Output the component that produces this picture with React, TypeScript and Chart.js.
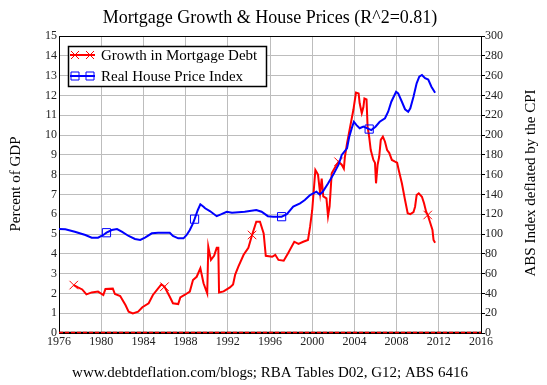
import React, { useEffect, useRef } from "react";
import { Chart, registerables } from "chart.js";

Chart.register(...registerables);

const TITLE = "Mortgage Growth & House Prices (R^2=0.81)";
const FOOTER = "www.debtdeflation.com/blogs; RBA Tables D02, G12; ABS 6416";
const LEFT_TITLE = "Percent of GDP";
const RIGHT_TITLE = "ABS Index deflated by the CPI";
const SERIES_RED = "Growth in Mortgage Debt";
const SERIES_BLUE = "Real House Price Index";

const redYears = [
  1977.4, 1977.8, 1978.2, 1978.6, 1979.1, 1979.7, 1980.2, 1980.4, 1981.1, 1981.3,
  1981.8, 1982.3, 1982.6, 1983.0, 1983.5, 1983.9, 1984.5, 1984.9, 1985.7, 1986.0,
  1986.5, 1986.8, 1987.3, 1987.5, 1987.9, 1988.4, 1988.7, 1989.05, 1989.4, 1989.7,
  1990.05, 1990.15, 1990.4, 1990.7, 1990.95, 1991.1, 1991.17, 1991.6, 1992.2, 1992.5,
  1992.7, 1993.0, 1993.5, 1993.95, 1994.3, 1994.7, 1995.05, 1995.4, 1995.6, 1996.2,
  1996.5, 1996.8, 1997.3, 1997.7, 1998.3, 1998.7, 1999.15, 1999.6, 1999.8, 2000.0,
  2000.3, 2000.55, 2000.75, 2000.9, 2001.05, 2001.35, 2001.5, 2001.65, 2001.85, 2002.2,
  2002.5, 2002.8, 2003.0, 2003.1, 2003.3, 2003.6, 2003.9, 2004.15, 2004.4, 2004.5,
  2004.7, 2004.85, 2004.95, 2005.15, 2005.25, 2005.4, 2005.55, 2005.8, 2005.95, 2006.05,
  2006.2, 2006.35, 2006.5, 2006.7, 2006.9, 2007.1, 2007.3, 2007.55, 2007.85, 2008.05,
  2008.2, 2008.5, 2008.8, 2009.05, 2009.3, 2009.6, 2009.75, 2009.9, 2010.1, 2010.4,
  2010.6, 2010.8, 2010.95, 2011.2, 2011.4, 2011.5, 2011.65,
];
const redValues = [
  2.42, 2.3, 2.2, 1.95, 2.05, 2.09, 1.92, 2.22, 2.24, 1.97,
  1.87, 1.41, 1.08, 0.99, 1.08, 1.3, 1.5, 1.92, 2.46, 2.34,
  1.83, 1.5, 1.46, 1.8, 1.92, 2.09, 2.68, 2.84, 3.27, 2.51,
  2.0, 4.36, 3.69, 3.9, 4.3, 4.3, 2.05, 2.1, 2.3, 2.45,
  2.95, 3.35, 3.95, 4.3, 4.95, 5.62, 5.62, 5.03, 3.9, 3.85,
  3.95, 3.69, 3.65, 4.02, 4.61, 4.5, 4.61, 4.7, 5.37, 6.2,
  8.23, 8.0, 7.05, 7.8, 6.9, 6.8, 5.9, 6.4, 8.07, 8.4,
  8.65, 8.5, 8.3, 8.9, 9.58, 10.42, 11.26, 12.14, 12.1, 11.6,
  11.1, 11.4, 11.85, 11.8, 10.42, 9.9, 9.24, 8.74, 8.6, 7.56,
  8.5, 8.9, 9.75, 9.92, 9.66, 9.24, 9.1, 8.74, 8.65, 8.6,
  8.23, 7.56, 6.72, 6.05, 6.0, 6.1, 6.38, 6.97, 7.05, 6.88,
  6.55, 6.13, 5.96, 5.54, 5.2, 4.7, 4.56,
];
const redMarkerYears = [1977.4, 1986.0, 1994.3, 2002.5, 2010.95];

const blueYears = [
  1976.0, 1976.6, 1977.5, 1978.5, 1979.1, 1979.7, 1980.2, 1980.5, 1981.0, 1981.5,
  1981.95, 1982.6, 1983.2, 1983.7, 1984.15, 1984.8, 1985.4, 1986.5, 1986.8, 1987.3,
  1987.8, 1988.1, 1988.4, 1988.7, 1988.85, 1989.15, 1989.4, 1989.7, 1989.85, 1990.3,
  1990.95, 1991.4, 1991.9, 1992.4, 1993.6, 1994.7, 1995.2, 1995.8, 1996.3, 1997.1,
  1997.6, 1998.2, 1998.85, 1999.3, 1999.8, 2000.4, 2000.7, 2001.0, 2001.5, 2002.0,
  2002.5, 2002.8, 2003.3, 2003.5, 2003.75, 2003.95, 2004.2, 2004.5, 2004.85, 2005.4,
  2005.6, 2006.0, 2006.4, 2006.9, 2007.2, 2007.5, 2007.95, 2008.15, 2008.5, 2008.8,
  2009.1, 2009.3, 2009.6, 2009.9, 2010.15, 2010.4, 2010.7, 2011.0, 2011.3, 2011.65,
];
const blueValues = [
  105, 104.7, 102.3, 99, 96.3, 96.3, 99, 101.3, 104, 105,
  102.3, 98, 95, 94, 96.3, 100.7, 101.3, 101.3, 98, 95.6,
  95.6, 99, 104, 110.8, 115, 124, 130, 127.6, 126, 123.2,
  118, 120, 122.5, 121.5, 122.5, 124.2, 122.5, 118, 117.5, 117.5,
  120, 127.6, 131, 134.3, 139.4, 142.7, 140, 142.7, 151, 160,
  170, 179.8, 186.6, 197.7, 206.8, 213.4, 210, 206.8, 208.6, 206,
  205, 208.4, 213.4, 216.9, 223.5, 233.6, 243.7, 242, 233.6, 226,
  223.5, 227, 238.7, 252.2, 259, 260.6, 257.3, 256, 248.8, 242.7,
];
const blueMarkerYears = [1980.5, 1988.85, 1997.1, 2005.4];

const X_MIN = 1976, X_MAX = 2016, X_STEP = 4;
const LEFT_MAX = 15, LEFT_STEP = 1;
const RIGHT_MAX = 300, RIGHT_STEP = 20;

const RED = "#ff0000";
const BLUE = "#0000ff";
const SERIF = '"Liberation Serif", "DejaVu Serif", serif';

const overlayPlugin = {
  id: "overlay",
  afterDraw(chart: any) {
    const ctx = chart.ctx as CanvasRenderingContext2D;
    const a = chart.chartArea;
    ctx.save();
    // top frame line
    ctx.strokeStyle = "#000";
    ctx.lineWidth = 1;
    ctx.beginPath();
    ctx.moveTo(a.left, a.top + 0.5);
    ctx.lineTo(a.right, a.top + 0.5);
    ctx.stroke();

    // bottom axis: black line with red dashes on top
    const yb = Math.round(a.bottom) - 0.5;
    ctx.beginPath();
    ctx.strokeStyle = "#000";
    ctx.lineWidth = 1.5;
    ctx.moveTo(a.left, yb);
    ctx.lineTo(a.right, yb);
    ctx.stroke();
    ctx.beginPath();
    ctx.setLineDash([4, 2]);
    ctx.strokeStyle = RED;
    ctx.lineWidth = 1.5;
    ctx.moveTo(a.left, yb);
    ctx.lineTo(a.right, yb);
    ctx.stroke();
    ctx.setLineDash([]);

    ctx.fillStyle = "#000";
    ctx.textAlign = "center";
    ctx.textBaseline = "middle";
    ctx.font = `18px ${SERIF}`;
    ctx.fillText(TITLE, 270, 18);
    ctx.font = `15px ${SERIF}`;
    ctx.fillText(FOOTER, 270, 373);

    ctx.save();
    ctx.translate(16, 184);
    ctx.rotate(-Math.PI / 2);
    ctx.fillText(LEFT_TITLE, 0, 0);
    ctx.restore();
    ctx.save();
    ctx.translate(531, 183);
    ctx.rotate(-Math.PI / 2);
    ctx.fillText(RIGHT_TITLE, 0, 0);
    ctx.restore();

    // legend
    const bx = 68, by = 46, bw = 198, bh = 40;
    ctx.fillStyle = "#fff";
    ctx.fillRect(bx, by, bw, bh);
    ctx.strokeStyle = "#000";
    ctx.lineWidth = 1.5;
    ctx.strokeRect(bx + 0.5, by + 0.5, bw, bh);

    const rows = [
      { y: 55, color: RED, label: SERIES_RED, kind: "cross" },
      { y: 76, color: BLUE, label: SERIES_BLUE, kind: "square" },
    ];
    rows.forEach((r) => {
      ctx.strokeStyle = r.color;
      ctx.lineWidth = 2;
      ctx.beginPath();
      ctx.moveTo(70, r.y);
      ctx.lineTo(95, r.y);
      ctx.stroke();
      ctx.lineWidth = 1;
      [75, 90].forEach((mx) => {
        ctx.beginPath();
        if (r.kind === "cross") {
          ctx.moveTo(mx - 4, r.y - 4);
          ctx.lineTo(mx + 4, r.y + 4);
          ctx.moveTo(mx - 4, r.y + 4);
          ctx.lineTo(mx + 4, r.y - 4);
        } else {
          ctx.rect(mx - 4, r.y - 4, 8, 8);
        }
        ctx.stroke();
      });
      ctx.fillStyle = "#000";
      ctx.textAlign = "left";
      ctx.textBaseline = "middle";
      ctx.font = `15px ${SERIF}`;
      ctx.fillText(r.label, 101, r.y + 1);
    });
    ctx.restore();
  },
};

export default function App() {
  const ref = useRef<HTMLCanvasElement | null>(null);

  useEffect(() => {
    document.body.style.margin = "0";
    const canvas = ref.current;
    if (!canvas) return;

    const blueData = blueYears.map((x, i) => ({ x, y: blueValues[i] }));
    const redData = redYears.map((x, i) => ({ x, y: redValues[i] }));

    const tickFont = { family: SERIF, size: 12 };

    const chart = new Chart(canvas, {
      type: "line",
      data: {
        datasets: [
          {
            label: SERIES_BLUE,
            data: blueData,
            yAxisID: "yR",
            borderColor: BLUE,
            borderWidth: 2,
            backgroundColor: "rgba(0,0,0,0)",
            pointStyle: "rect",
            pointBorderColor: BLUE,
            pointBorderWidth: 1,
            pointBackgroundColor: "rgba(0,0,0,0)",
            pointRadius: (c: any) => (blueMarkerYears.includes(c.raw?.x) ? 5.8 : 0),
            pointHoverRadius: 0,
            tension: 0,
          },
          {
            label: SERIES_RED,
            data: redData,
            yAxisID: "yL",
            borderColor: RED,
            borderWidth: 2,
            backgroundColor: "rgba(0,0,0,0)",
            pointStyle: "crossRot",
            pointBorderColor: RED,
            pointBorderWidth: 1,
            pointRadius: (c: any) => (redMarkerYears.includes(c.raw?.x) ? 6 : 0),
            pointHoverRadius: 0,
            tension: 0,
          },
        ],
      },
      options: {
        animation: false,
        responsive: false,
        devicePixelRatio: 1,
        layout: { padding: { top: 36, left: 0, right: 0, bottom: 0 } },
        plugins: {
          legend: { display: false },
          tooltip: { enabled: false },
          title: { display: false },
        },
        events: [],
        scales: {
          x: {
            type: "linear",
            min: X_MIN,
            max: X_MAX,
            ticks: {
              stepSize: X_STEP,
              autoSkip: false,
              maxRotation: 0,
              padding: 2,
              color: "#222",
              font: tickFont,
              callback: (v: any) => String(v),
            },
            grid: { color: "#bdbdbd", lineWidth: 1, drawTicks: false },
            border: { color: "#000", width: 1 },
            afterFit: (s: any) => {
              s.height = 52;
            },
          },
          yL: {
            type: "linear",
            position: "left",
            min: 0,
            max: LEFT_MAX,
            ticks: {
              stepSize: LEFT_STEP,
              padding: 2,
              color: "#222",
              font: tickFont,
            },
            grid: { color: "#bdbdbd", lineWidth: 1, drawTicks: false },
            border: { color: "#000", width: 1 },
            afterFit: (s: any) => {
              s.width = 59;
            },
          },
          yR: {
            type: "linear",
            position: "right",
            min: 0,
            max: RIGHT_MAX,
            ticks: {
              stepSize: RIGHT_STEP,
              padding: 0,
              color: "#222",
              font: tickFont,
            },
            grid: {
              drawOnChartArea: false,
              drawTicks: true,
              tickLength: 4,
              color: "#000",
            },
            border: { color: "#000", width: 1 },
            afterFit: (s: any) => {
              s.width = 66;
            },
          },
        },
      } as any,
      plugins: [overlayPlugin],
    });

    return () => chart.destroy();
  }, []);

  return (
    <div style={{ width: 547, height: 385 }}>
      <canvas ref={ref} width={547} height={385} style={{ display: "block" }} />
    </div>
  );
}
